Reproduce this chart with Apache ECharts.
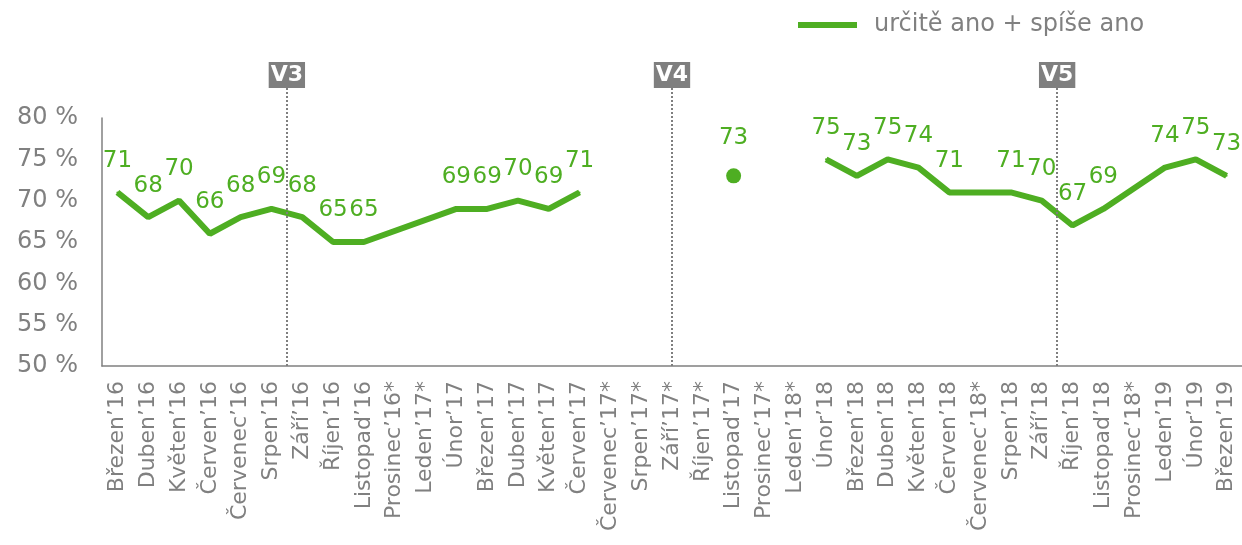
<!DOCTYPE html>
<html>
<head>
<meta charset="utf-8">
<script src="https://cdn.jsdelivr.net/npm/echarts@6/dist/echarts.min.js"></script>
<style>
  html, body { margin: 0; padding: 0; background: #fff; }
  #chart { width: 1242px; height: 545px; }
</style>
</head>
<body>
<div id="chart"></div>
<script>
var months = ['Březen’16', 'Duben’16', 'Květen’16', 'Červen’16', 'Červenec’16', 'Srpen’16', 'Září’16', 'Říjen’16',
  'Listopad’16', 'Prosinec’16*', 'Leden’17*', 'Únor’17', 'Březen’17', 'Duben’17', 'Květen’17', 'Červen’17',
  'Červenec’17*', 'Srpen’17*', 'Září’17*', 'Říjen’17*', 'Listopad’17', 'Prosinec’17*', 'Leden’18*', 'Únor’18',
  'Březen’18', 'Duben’18', 'Květen’18', 'Červen’18', 'Červenec’18*', 'Srpen’18', 'Září’18', 'Říjen’18',
  'Listopad’18', 'Prosinec’18*', 'Leden’19', 'Únor’19', 'Březen’19'];

// starred months have no measurement
var values = [71, 68, 70, 66, 68, 69, 68, 65, 65, null, null, 69, 69, 70, 69, 71,
  null, null, null, null, 73, null, null, 75, 73, 75, 74, 71, null, 71, 70, 67,
  69, null, 74, 75, 73];

// index ranges of continuous survey runs
var runs = [[0, 15], [20, 20], [23, 36]];

var waveNames = ['V3', 'V4', 'V5'];
var wavePositions = [5.5, 18, 30.5];

var seriesName = 'určitě ano + spíše ano';
var green = '#4eae22';
var gray = '#808080';
var font = 'DejaVu Sans';

var chart = echarts.init(document.getElementById('chart'));

var series = [];
runs.forEach(function (r) {
  var d = values.map(function (v, i) {
    return (i >= r[0] && i <= r[1]) ? v : null;
  });
  var single = r[0] === r[1];
  series.push({
    name: seriesName,
    type: 'line',
    data: d,
    connectNulls: true,
    symbol: 'circle',
    symbolSize: single ? 15 : 2,
    lineStyle: { color: green, width: 6 },
    itemStyle: { color: green },
    label: {
      show: true,
      position: 'top',
      distance: 19,
      color: green,
      fontSize: 23,
      fontFamily: font
    },
    animation: false,
    z: 3
  });
});

series.push({
  type: 'line',
  xAxisIndex: 1,
  yAxisIndex: 1,
  data: [],
  silent: true,
  animation: false,
  markLine: {
    symbol: ['none', 'none'],
    silent: true,
    animation: false,
    lineStyle: { color: '#7f7f7f', width: 2, type: [2, 2] },
    label: {
      show: true,
      position: 'end',
      distance: 0,
      formatter: '{b}',
      color: '#fff',
      backgroundColor: '#7f7f7f',
      fontFamily: font,
      fontWeight: 'bold',
      fontSize: 22,
      lineHeight: 24,
      padding: [1, 2, 1, 2]
    },
    data: wavePositions.map(function (p, i) {
      return { xAxis: p, name: waveNames[i] };
    })
  }
});

var option = {
  backgroundColor: '#fff',
  textStyle: { fontFamily: font },
  legend: {
    data: [seriesName],
    left: 793,
    top: 8,
    icon: 'rect',
    itemWidth: 59,
    itemHeight: 6,
    itemStyle: { color: green },
    textStyle: { color: gray, fontSize: 24, fontFamily: font, padding: [0, 0, 0, 12] }
  },
  grid: [
    { left: 102, right: 0, top: 118, bottom: 179 },
    { left: 102, right: 0, top: 88, bottom: 179 }
  ],
  xAxis: [{
    type: 'category',
    gridIndex: 0,
    data: months,
    boundaryGap: true,
    axisLine: { show: true, lineStyle: { color: gray, width: 1.5 } },
    axisTick: { show: false },
    axisLabel: {
      rotate: 90,
      interval: 0,
      margin: 15,
      color: gray,
      fontSize: 22,
      fontFamily: font
    },
    splitLine: { show: false }
  }, {
    type: 'value',
    gridIndex: 1,
    min: -0.5,
    max: 36.5,
    show: false
  }],
  yAxis: [{
    type: 'value',
    gridIndex: 0,
    min: 50,
    max: 80,
    interval: 5,
    axisLine: { show: true, lineStyle: { color: gray, width: 1.5 } },
    axisTick: { show: false },
    splitLine: { show: false },
    axisLabel: {
      formatter: '{value} %',
      margin: 24,
      color: gray,
      fontSize: 24,
      fontFamily: font
    }
  }, {
    type: 'value',
    gridIndex: 1,
    min: 0,
    max: 1,
    show: false
  }],
  series: series
};

chart.setOption(option);
</script>
</body>
</html>
